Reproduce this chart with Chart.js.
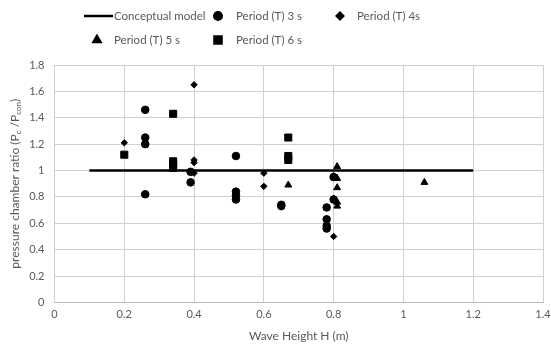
<!DOCTYPE html>
<html>
<head>
<meta charset="utf-8">
<script src="https://cdn.jsdelivr.net/npm/chart.js@4"></script>
<style>
  html, body { margin: 0; padding: 0; background: #fff; }
  #wrap { width: 551px; height: 347px; }
</style>
</head>
<body>
<div id="wrap"><canvas id="scatterChart"></canvas></div>
<script>
// Conceptual model line
const conceptH = [0.1, 1.2];
const conceptR = [1, 1];

// Period (T) 3 s
const h3 = [0.26, 0.26, 0.26, 0.26, 0.39, 0.39, 0.52, 0.52, 0.52, 0.52, 0.65, 0.65, 0.78, 0.78, 0.78, 0.78, 0.80, 0.80];
const r3 = [1.46, 1.25, 1.20, 0.82, 0.99, 0.91, 1.11, 0.84, 0.81, 0.78, 0.74, 0.73, 0.72, 0.63, 0.58, 0.56, 0.95, 0.78];

// Period (T) 4s
const h4 = [0.20, 0.40, 0.40, 0.40, 0.40, 0.60, 0.60, 0.80, 0.80, 0.80];
const r4 = [1.21, 1.65, 1.08, 1.06, 0.98, 0.98, 0.88, 0.96, 0.79, 0.50];

// Period (T) 5 s
const h5 = [0.67, 0.81, 0.81, 0.81, 0.81, 0.81, 1.06];
const r5 = [0.89, 1.03, 0.94, 0.87, 0.76, 0.73, 0.91];

// Period (T) 6 s
const h6 = [0.20, 0.34, 0.34, 0.34, 0.34, 0.67, 0.67, 0.67];
const r6 = [1.12, 1.43, 1.07, 1.05, 1.02, 1.25, 1.11, 1.08];

const xTicks = [0, 0.2, 0.4, 0.6, 0.8, 1, 1.2, 1.4];
const yTicks = [0, 0.2, 0.4, 0.6, 0.8, 1, 1.2, 1.4, 1.6, 1.8];

const pts = (xs, ys) => xs.map((x, i) => ({ x: x, y: ys[i] }));
const fmt = v => String(Number(v.toFixed(1)));

const textColor = '#595959';
const fontFamily = 'Lato, "Open Sans", sans-serif';

// legend drawn as a grid, like the original
const gridLegend = {
  id: 'gridLegend',
  afterDraw(chart) {
    const ctx = chart.ctx;
    const slots = [
      { ds: 0, x: 98, y: 16, tx: 114 },
      { ds: 1, x: 218, y: 16, tx: 236 },
      { ds: 2, x: 340, y: 16, tx: 357 },
      { ds: 3, x: 97, y: 40, tx: 114 },
      { ds: 4, x: 218, y: 40, tx: 236 }
    ];
    ctx.save();
    ctx.font = '11.5px ' + fontFamily;
    ctx.fillStyle = textColor;
    ctx.textBaseline = 'middle';
    slots.forEach(s => {
      const d = chart.data.datasets[s.ds];
      if (d.showLine) {
        ctx.strokeStyle = '#000';
        ctx.lineWidth = 2.5;
        ctx.beginPath();
        ctx.moveTo(84, s.y);
        ctx.lineTo(113, s.y);
        ctx.stroke();
      } else {
        ctx.fillStyle = '#000';
        ctx.strokeStyle = '#000';
        Chart.helpers.drawPoint(ctx, {
          pointStyle: d.pointStyle, radius: d.pointRadius, rotation: 0, borderWidth: 1
        }, s.x, s.y);
      }
      ctx.fillStyle = textColor;
      ctx.fillText(d.label, s.tx, s.y);
    });
    ctx.restore();
  }
};

// y axis title with subscripts
const yTitle = {
  id: 'yTitle',
  afterDraw(chart) {
    const ctx = chart.ctx;
    const a = chart.chartArea;
    const cy = (a.top + a.bottom) / 2;
    const parts = [
      ['pressure chamber ratio (P', 12, 0],
      ['c', 8, 3],
      [' /P', 12, 0],
      ['con', 8, 3],
      [')', 12, 0]
    ];
    ctx.save();
    let total = 0;
    parts.forEach(p => { ctx.font = p[1] + 'px ' + fontFamily; total += ctx.measureText(p[0]).width; });
    ctx.translate(15, cy);
    ctx.rotate(-Math.PI / 2);
    ctx.fillStyle = textColor;
    ctx.textBaseline = 'middle';
    let x = -total / 2;
    parts.forEach(p => {
      ctx.font = p[1] + 'px ' + fontFamily;
      ctx.fillText(p[0], x, p[2]);
      x += ctx.measureText(p[0]).width;
    });
    ctx.restore();
  }
};

new Chart(document.getElementById('scatterChart'), {
  type: 'scatter',
  data: {
    datasets: [
      {
        label: 'Conceptual model',
        data: pts(conceptH, conceptR),
        showLine: true,
        borderColor: '#000',
        borderWidth: 2.5,
        pointRadius: 0,
        pointHoverRadius: 0
      },
      {
        label: 'Period (T) 3 s',
        data: pts(h3, r3),
        pointStyle: 'circle',
        pointRadius: 3.8,
        backgroundColor: '#000',
        borderColor: '#000'
      },
      {
        label: 'Period (T) 4s',
        data: pts(h4, r4),
        pointStyle: 'rectRot',
        pointRadius: 3.2,
        backgroundColor: '#000',
        borderColor: '#000'
      },
      {
        label: 'Period (T) 5 s',
        data: pts(h5, r5),
        pointStyle: 'triangle',
        pointRadius: 4,
        backgroundColor: '#000',
        borderColor: '#000'
      },
      {
        label: 'Period (T) 6 s',
        data: pts(h6, r6),
        pointStyle: 'rect',
        pointRadius: 5,
        backgroundColor: '#000',
        borderColor: '#000'
      }
    ]
  },
  options: {
    responsive: true,
    maintainAspectRatio: false,
    animation: false,
    layout: { padding: { top: 65, right: 0, left: 0, bottom: 0 } },
    plugins: {
      legend: { display: false },
      tooltip: { enabled: false }
    },
    scales: {
      x: {
        type: 'linear',
        min: 0,
        max: 1.4,
        afterBuildTicks: s => { s.ticks = xTicks.map(v => ({ value: v })); },
        afterFit: s => { s.paddingRight = 8; },
        ticks: { color: textColor, font: { family: fontFamily, size: 11 }, padding: 5, callback: fmt },
        grid: { color: '#d0d0d0', lineWidth: 1, drawTicks: false },
        border: { color: '#bfbfbf' },
        title: {
          display: true,
          text: 'Wave Height H (m)',
          color: textColor,
          font: { family: fontFamily, size: 12 },
          padding: { top: 3, bottom: 4 }
        }
      },
      y: {
        min: 0,
        max: 1.8,
        afterBuildTicks: s => { s.ticks = yTicks.map(v => ({ value: v })); },
        afterFit: s => { s.width = 54.5; },
        ticks: { color: textColor, font: { family: fontFamily, size: 11 }, padding: 10, callback: fmt },
        grid: { color: '#d0d0d0', lineWidth: 1, drawTicks: false },
        border: { color: '#d0d0d0' }
      }
    }
  },
  plugins: [gridLegend, yTitle]
});
</script>
</body>
</html>
